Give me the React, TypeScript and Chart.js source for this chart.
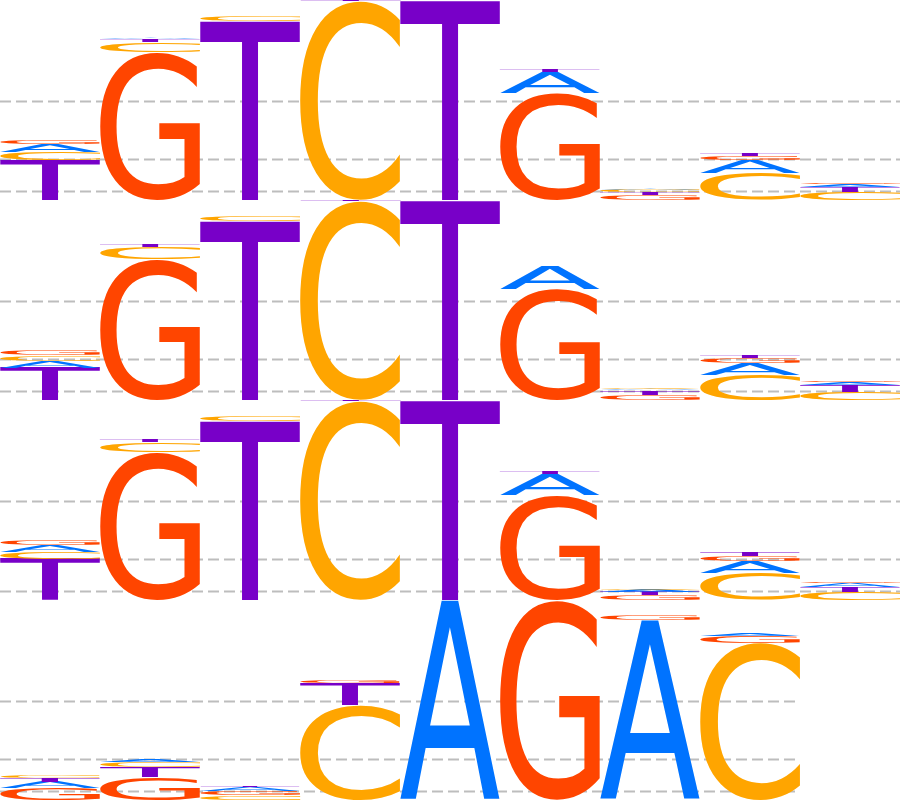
import React, { useEffect, useRef } from "react";
import { Chart, registerables } from "chart.js";

Chart.register(...registerables);

// Letters and their colours
const LETTERS = ["A", "C", "G", "T"];
const LETTER_COLORS = ["#0073ff", "#ffa500", "#ff4500", "#7800c8"];

// Each row is a logo; heights in bits, one value per position
const ROW_POSITIONS = [9, 9, 9, 8];
const ROW_MAX = 2;
const GRID_VALUES = [0.085, 0.405, 0.985];

// Row 1
const ROW1_A = [0.078, 0.008, 0.003, 0.003, 0.003, 0.21, 0.015, 0.125, 0.03];
const ROW1_C = [0.08, 0.1, 0.05, 1.99, 0.005, 0.005, 0.02, 0.27, 0.08];
const ROW1_G = [0.04, 1.48, 0.003, 0.002, 0.002, 1.07, 0.055, 0.045, 0.015];
const ROW1_T = [0.4, 0.025, 1.79, 0.005, 1.99, 0.02, 0.025, 0.03, 0.05];

// Row 2
const ROW2_A = [0.07, 0.005, 0.003, 0.003, 0.003, 0.24, 0.015, 0.12, 0.025];
const ROW2_C = [0.055, 0.12, 0.053, 1.99, 0.005, 0.003, 0.012, 0.25, 0.08];
const ROW2_G = [0.05, 1.41, 0.003, 0.002, 0.002, 1.11, 0.055, 0.05, 0.015];
const ROW2_T = [0.32, 0.025, 1.79, 0.005, 1.99, 0.003, 0.04, 0.03, 0.07];

// Row 3
const ROW3_A = [0.068, 0.005, 0.003, 0.003, 0.003, 0.21, 0.02, 0.12, 0.035];
const ROW3_C = [0.07, 0.1, 0.053, 1.99, 0.005, 0.005, 0.015, 0.27, 0.08];
const ROW3_G = [0.05, 1.48, 0.003, 0.002, 0.002, 1.05, 0.05, 0.05, 0.015];
const ROW3_T = [0.41, 0.02, 1.79, 0.005, 1.99, 0.02, 0.033, 0.035, 0.05];

// Row 4
const ROW4_A = [0.066, 0.02, 0.04, 0.005, 1.995, 0.002, 1.795, 0.027];
const ROW4_C = [0.023, 0.05, 0.045, 0.95, 0.002, 0.002, 0.003, 1.567];
const ROW4_G = [0.117, 0.227, 0.042, 0.02, 0.002, 1.995, 0.055, 0.073];
const ROW4_T = [0.033, 0.103, 0.012, 0.217, 0.001, 0.001, 0.002, 0.003];

const ROWS = [
  [ROW1_A, ROW1_C, ROW1_G, ROW1_T],
  [ROW2_A, ROW2_C, ROW2_G, ROW2_T],
  [ROW3_A, ROW3_C, ROW3_G, ROW3_T],
  [ROW4_A, ROW4_C, ROW4_G, ROW4_T],
];

const FONT = '200px "DejaVu Sans"';

function drawGlyph(
  ctx: CanvasRenderingContext2D,
  letter: string,
  color: string,
  x0: number,
  x1: number,
  yTop: number,
  yBot: number
) {
  const h = yBot - yTop;
  const w = x1 - x0;
  if (h <= 0 || w <= 0) return;
  ctx.save();
  ctx.font = FONT;
  ctx.textAlign = "left";
  ctx.textBaseline = "alphabetic";
  const m = ctx.measureText(letter);
  const left = -m.actualBoundingBoxLeft;
  const right = m.actualBoundingBoxRight;
  const asc = m.actualBoundingBoxAscent;
  const desc = m.actualBoundingBoxDescent;
  const gw = right - left;
  const gh = asc + desc;
  ctx.translate(x0, yTop);
  ctx.scale(w / gw, h / gh);
  ctx.fillStyle = color;
  ctx.fillText(letter, -left, asc);
  ctx.restore();
}

const logoPlugin = {
  id: "logoPlugin",
  beforeDatasetsDraw(chart: any) {
    const { ctx, scales } = chart;
    const x = scales.x;
    const y = scales.y;
    ctx.save();
    ctx.strokeStyle = "#bdbdbd";
    ctx.lineWidth = 2;
    ctx.setLineDash([11, 5]);
    ROWS.forEach((_row, r) => {
      const base = (ROWS.length - 1 - r) * ROW_MAX;
      GRID_VALUES.forEach((g) => {
        const py = y.getPixelForValue(base + g);
        ctx.beginPath();
        ctx.moveTo(x.getPixelForValue(0), py);
        ctx.lineTo(x.getPixelForValue(ROW_POSITIONS[r]), py);
        ctx.stroke();
      });
    });
    ctx.restore();
  },
  afterDatasetsDraw(chart: any) {
    const { ctx, scales } = chart;
    const x = scales.x;
    const y = scales.y;
    ROWS.forEach((row, r) => {
      const base = (ROWS.length - 1 - r) * ROW_MAX;
      for (let i = 0; i < ROW_POSITIONS[r]; i++) {
        const items = LETTERS.map((L, k) => ({ L, k, h: row[k][i] })).filter(
          (it) => it.h > 0
        );
        items.sort((a, b) => b.h - a.h);
        let cum = base;
        const x0 = x.getPixelForValue(i);
        const x1 = x.getPixelForValue(i + 1);
        for (const it of items) {
          const yb = y.getPixelForValue(cum);
          const yt = y.getPixelForValue(cum + it.h);
          drawGlyph(ctx, it.L, LETTER_COLORS[it.k], x0, x1, yt, yb);
          cum += it.h;
        }
      }
    });
  },
};

export default function App() {
  const canvasRef = useRef<HTMLCanvasElement | null>(null);

  useEffect(() => {
    document.body.style.margin = "0";
    const canvas = canvasRef.current;
    if (!canvas) return;
    const chart = new Chart(canvas, {
      type: "scatter",
      data: { datasets: [] },
      options: {
        animation: false,
        responsive: false,
        devicePixelRatio: 1,
        layout: { padding: 0 },
        plugins: { legend: { display: false }, tooltip: { enabled: false } },
        scales: {
          x: { type: "linear", min: 0, max: 9, display: false },
          y: { type: "linear", min: 0, max: ROWS.length * ROW_MAX, display: false },
        },
      },
      plugins: [logoPlugin],
    });
    return () => chart.destroy();
  }, []);

  return (
    <div style={{ width: 900, height: 800 }}>
      <canvas ref={canvasRef} width={900} height={800} style={{ display: "block" }} />
    </div>
  );
}
